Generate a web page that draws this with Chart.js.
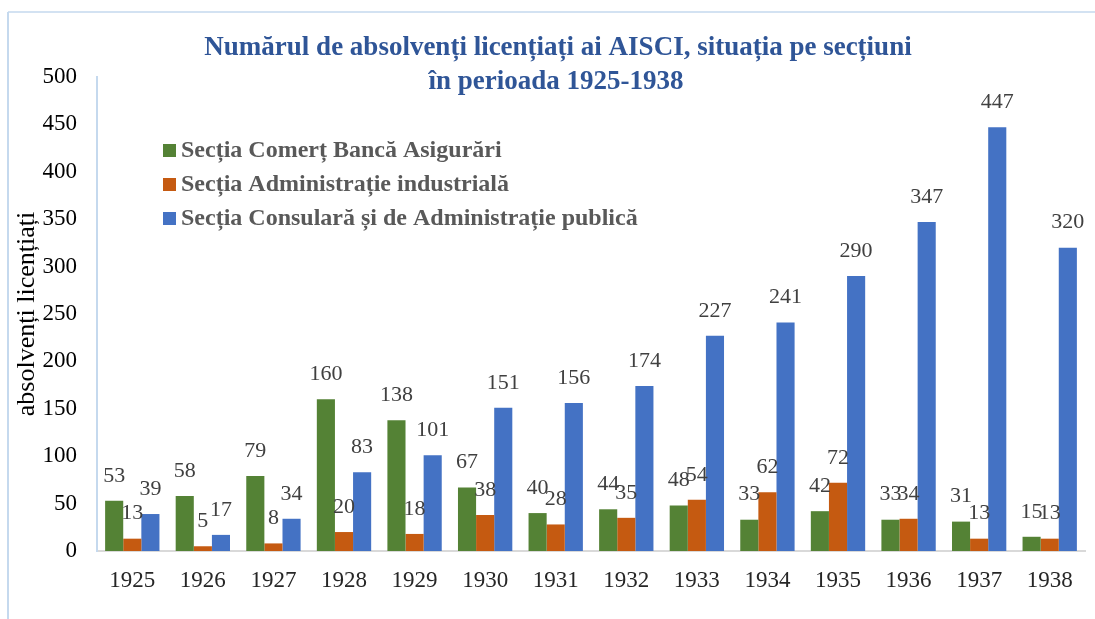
<!DOCTYPE html>
<html>
<head>
<meta charset="utf-8">
<script src="https://cdn.jsdelivr.net/npm/chart.js@4"></script>
<style>
  html, body { margin: 0; padding: 0; background: #fff; }
  #wrap { position: relative; width: 1095px; height: 619px; }
</style>
</head>
<body>
<div id="wrap"><canvas id="chart" width="1095" height="619"></canvas></div>
<script>
var years = ['1925', '1926', '1927', '1928', '1929', '1930', '1931', '1932', '1933', '1934', '1935', '1936', '1937', '1938'];
var comert = [53, 58, 79, 160, 138, 67, 40, 44, 48, 33, 42, 33, 31, 15];
var industriala = [13, 5, 8, 20, 18, 38, 28, 35, 54, 62, 72, 34, 13, 13];
var consulara = [39, 17, 34, 83, 101, 151, 156, 174, 227, 241, 290, 347, 447, 320];
var seriesNames = ['Secția Comerț Bancă Asigurări', 'Secția Administrație industrială', 'Secția Consulară și de Administrație publică'];
var titleLines = ['Numărul de absolvenți licențiați ai AISCI, situația pe secțiuni', 'în perioada 1925-1938'];

var serif = '"Liberation Serif", "Times New Roman", serif';

// light border round the chart, like the Excel chart frame
var framePlugin = {
    id: 'frame',
    beforeDraw: function(chart) {
        var ctx = chart.ctx;
        ctx.save();
        ctx.strokeStyle = '#C5D9EE';
        ctx.lineWidth = 2;
        ctx.beginPath();
        ctx.moveTo(8, 619);
        ctx.lineTo(8, 12);
        ctx.stroke();
        ctx.lineWidth = 1.5;
        ctx.beginPath();
        ctx.moveTo(8, 12);
        ctx.lineTo(1095, 12);
        ctx.stroke();
        ctx.restore();
    }
};

var titlePlugin = {
    id: 'customTitle',
    afterDraw: function(chart) {
        var ctx = chart.ctx;
        ctx.save();
        ctx.fillStyle = '#2F5597';
        ctx.font = 'bold 27px ' + serif;
        ctx.textAlign = 'center';
        ctx.textBaseline = 'middle';
        ctx.fillText(titleLines[0], 558, 48);
        ctx.fillText(titleLines[1], 556, 82);
        ctx.restore();
    }
};

var legendPlugin = {
    id: 'customLegend',
    afterDraw: function(chart) {
        var ctx = chart.ctx;
        ctx.save();
        ctx.font = 'bold 24px ' + serif;
        ctx.textBaseline = 'middle';
        chart.data.datasets.forEach(function(ds, i) {
            var y = 150 + i * 34;
            ctx.fillStyle = ds.backgroundColor;
            ctx.fillRect(163, y - 6, 13, 13);
            ctx.fillStyle = '#595959';
            ctx.fillText(ds.label, 181, y + 1);
        });
        ctx.restore();
    }
};

var labelPlugin = {
    id: 'valueLabels',
    afterDatasetsDraw: function(chart) {
        var ctx = chart.ctx;
        ctx.save();
        ctx.font = '22px ' + serif;
        ctx.fillStyle = '#404040';
        ctx.textAlign = 'center';
        ctx.textBaseline = 'middle';
        chart.data.datasets.forEach(function(ds, i) {
            var meta = chart.getDatasetMeta(i);
            meta.data.forEach(function(bar, j) {
                ctx.fillText(String(ds.data[j]), bar.x, bar.y - 25);
            });
        });
        ctx.restore();
    }
};

new Chart(document.getElementById('chart'), {
    type: 'bar',
    data: {
        labels: years,
        datasets: [
            { label: seriesNames[0], data: comert, backgroundColor: '#548235', borderWidth: 0 },
            { label: seriesNames[1], data: industriala, backgroundColor: '#C55A11', borderWidth: 0 },
            { label: seriesNames[2], data: consulara, backgroundColor: '#4472C4', borderWidth: 0 }
        ]
    },
    options: {
        responsive: false,
        animation: false,
        layout: { padding: { left: 0, top: 77, right: 10, bottom: 0 } },
        datasets: { bar: { categoryPercentage: 0.77, barPercentage: 1.0 } },
        plugins: {
            legend: { display: false },
            title: { display: false },
            tooltip: { enabled: false }
        },
        scales: {
            x: {
                grid: { display: false },
                border: { display: true, color: '#D9D9D9', width: 2 },
                ticks: { color: '#262626', font: { family: serif, size: 23 }, padding: 8 },
                afterFit: function(scale) { scale.height = 68; }
            },
            y: {
                min: 0,
                max: 500,
                grid: { display: false },
                border: { display: true, color: '#C5D9EE', width: 2 },
                ticks: { stepSize: 50, color: '#000', font: { family: serif, size: 23 }, padding: 12 },
                title: {
                    display: true,
                    text: 'absolvenți licențiați',
                    color: '#000',
                    font: { family: serif, size: 26 },
                    padding: { top: 12, bottom: 0 }
                },
                afterFit: function(scale) { scale.width = 97; }
            }
        }
    },
    plugins: [framePlugin, titlePlugin, legendPlugin, labelPlugin]
});
</script>
</body>
</html>
